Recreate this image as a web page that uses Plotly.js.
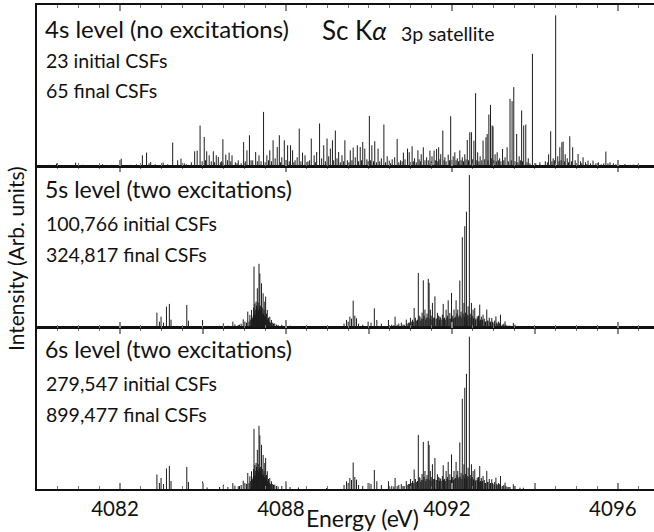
<!DOCTYPE html>
<html>
<head>
<meta charset="utf-8">
<script src="https://cdn.plot.ly/plotly-3.0.1.min.js"></script>
<style>
  html, body { margin: 0; padding: 0; background: #fff; }
  #chart { width: 654px; height: 532px; }
</style>
</head>
<body>
<div id="chart"></div>
<script>
// Sc K-alpha 3p satellite: calculated line positions (eV) and intensities (arb. units)

// 4s level, no excitations
const energy4s = [
  4082.30, 4082.47, 4082.65, 4082.93, 4083.10, 4083.35, 4083.58, 4083.80, 4084.03, 4084.25,
  4084.40, 4084.54, 4084.64, 4084.70, 4084.74, 4084.85, 4085.04, 4085.15, 4085.27, 4085.39,
  4085.47, 4085.60, 4085.80, 4085.86, 4085.93, 4086.03, 4086.09, 4086.15, 4086.20, 4086.25,
  4086.32, 4086.37, 4086.42, 4086.48, 4086.55, 4086.63, 4086.70, 4086.78, 4086.85, 4086.92,
  4086.98, 4087.06, 4087.12, 4087.20, 4087.27, 4087.35, 4087.40, 4087.46, 4087.54, 4087.61,
  4087.69, 4087.74, 4087.79, 4087.84, 4087.90, 4087.96, 4088.04, 4088.11, 4088.16, 4088.22,
  4088.27, 4088.32, 4088.40, 4088.46, 4088.53, 4088.61, 4088.68, 4088.74, 4088.81, 4088.86,
  4088.91, 4088.99, 4089.03, 4089.07, 4089.12, 4089.19, 4089.23, 4089.27, 4089.35, 4089.42,
  4089.48, 4089.55, 4089.62, 4089.67, 4089.72, 4089.79, 4089.85, 4089.90, 4089.95, 4090.01,
  4090.07, 4090.14, 4090.22, 4090.30, 4090.36, 4090.44, 4090.49, 4090.56, 4090.62, 4090.68,
  4090.76, 4090.83, 4090.87, 4090.93, 4090.97, 4091.04, 4091.10, 4091.18, 4091.21, 4091.26,
  4091.31, 4091.39, 4091.43, 4091.47, 4091.52, 4091.57, 4091.63, 4091.68, 4091.73, 4091.78,
  4091.83, 4091.91, 4091.97, 4092.03, 4092.07, 4092.13, 4092.19, 4092.25, 4092.31, 4092.37,
  4092.43, 4092.47, 4092.53, 4092.57, 4092.62, 4092.68, 4092.75, 4092.82, 4092.85, 4092.89,
  4092.93, 4092.97, 4092.99, 4093.04, 4093.09, 4093.15, 4093.22, 4093.28, 4093.33, 4093.40,
  4093.45, 4093.49, 4093.56, 4093.62, 4093.68, 4093.73, 4093.78, 4093.84, 4093.94, 4094.02,
  4094.12, 4094.25, 4094.33, 4094.38, 4094.44, 4094.50, 4094.55, 4094.60, 4094.65, 4094.68,
  4094.73, 4094.78, 4094.84, 4094.91, 4094.97, 4095.04, 4095.10, 4095.16, 4095.22, 4095.28,
  4095.34, 4095.40, 4095.47, 4095.53, 4095.60, 4095.66, 4095.71, 4095.76, 4095.81, 4095.89,
  4095.95, 4096.05, 4096.17, 4096.30, 4096.37, 4096.49,
  // weak lines
  4085.55, 4085.72, 4085.98, 4086.06, 4086.28, 4086.45, 4086.59, 4086.67, 4086.82, 4087.02,
  4087.16, 4087.31, 4087.50, 4087.58, 4087.65, 4087.87, 4088.00, 4088.08, 4088.19, 4088.36,
  4088.50, 4088.57, 4088.71, 4088.95, 4089.15, 4089.31, 4089.39, 4089.52, 4089.59, 4089.75,
  4089.82, 4089.98, 4090.04, 4090.11, 4090.18, 4090.26, 4090.40, 4090.52, 4090.72, 4090.80,
  4091.00, 4091.07, 4091.14, 4091.24, 4091.35, 4091.50, 4091.60, 4091.66, 4091.71, 4091.81,
  4091.86, 4091.94, 4092.00, 4092.10, 4092.16, 4092.22, 4092.28, 4092.34, 4092.40, 4092.50,
  4092.60, 4092.65, 4092.72, 4092.79, 4092.87, 4092.95, 4093.01, 4093.07, 4093.12, 4093.18,
  4093.25, 4093.36, 4093.43, 4093.52, 4093.59, 4093.65, 4093.70, 4093.81, 4093.88, 4094.30,
  4094.41, 4094.47, 4094.58, 4094.63, 4094.71, 4094.81, 4094.88, 4095.00, 4095.13, 4095.25
];
const intensity4s = [
  1.5, 2.7, 1.0, 3.7, 1.5, 1.2, 2.0, 1.5, 7.7, 1.5,
  2.0, 11.0, 13.7, 3.0, 4.3, 2.0, 3.7, 2.0, 23.7, 6.0,
  7.7, 2.0, 15.0, 15.7, 40.7, 29.3, 15.0, 11.0, 5.0, 15.0,
  11.0, 9.3, 4.0, 27.0, 11.7, 13.7, 11.0, 4.0, 6.0, 3.0,
  24.3, 16.0, 31.0, 6.0, 14.3, 11.0, 5.0, 54.3, 11.0, 16.0,
  26.0, 8.0, 19.3, 31.0, 9.0, 26.0, 21.0, 21.0, 16.0, 6.0,
  9.0, 37.7, 13.7, 11.0, 5.0, 27.7, 11.0, 14.3, 42.7, 8.0,
  21.0, 27.7, 10.0, 17.7, 26.0, 35.7, 8.0, 14.3, 11.0, 26.0,
  6.0, 16.0, 18.7, 9.0, 21.0, 19.3, 24.3, 17.7, 7.0, 50.3,
  21.0, 25.0, 17.7, 8.0, 41.7, 10.0, 5.7, 7.0, 9.0, 27.3,
  6.0, 13.7, 7.0, 17.7, 14.0, 20.0, 8.0, 16.0, 7.0, 12.0,
  19.0, 9.0, 6.0, 15.7, 10.0, 15.7, 17.3, 19.0, 12.0, 35.7,
  9.0, 11.7, 50.0, 10.0, 14.0, 8.0, 16.0, 9.0, 12.0, 26.3,
  34.0, 34.0, 25.7, 73.0, 14.0, 10.0, 25.7, 29.0, 32.3, 51.7,
  61.3, 40.7, 39.7, 12.0, 14.0, 8.0, 17.3, 9.0, 19.0, 67.3,
  65.0, 79.0, 32.3, 10.0, 55.7, 40.7, 41.7, 8.0, 112.3, 3.0,
  4.0, 5.0, 12.0, 35.0, 8.0, 150.7, 10.0, 19.0, 24.0, 24.7,
  12.0, 8.0, 30.0, 19.0, 6.0, 12.3, 5.0, 9.0, 4.0, 5.7,
  3.0, 5.7, 3.0, 4.0, 2.0, 3.0, 14.7, 3.0, 4.0, 3.0,
  2.0, 1.5, 2.3, 1.5, 1.7, 2.3,
  // weak lines
  3, 4, 5, 6, 4, 5, 6, 5, 3, 5,
  6, 5, 4, 6, 5, 4, 6, 5, 4, 5,
  4, 6, 4, 5, 6, 4, 5, 4, 6, 5,
  6, 5, 6, 5, 4, 5, 4, 3, 4, 5,
  4, 5, 4, 5, 6, 5, 6, 5, 7, 6,
  5, 6, 5, 6, 5, 6, 5, 7, 6, 7,
  6, 5, 6, 7, 6, 8, 6, 5, 6, 5,
  6, 5, 6, 5, 4, 6, 5, 4, 3, 4,
  5, 6, 5, 6, 5, 4, 5, 3, 3, 2
];

// 5s level, two excitations
const energy5s = [
  4084.89, 4084.95, 4084.99, 4085.05, 4085.12, 4085.19, 4085.23, 4085.61, 4085.65, 4085.99,
  4086.10, 4086.40, 4086.49, 4086.60, 4086.72, 4086.77, 4086.85, 4086.88, 4086.92, 4086.97,
  4087.01, 4087.05, 4087.08, 4087.11, 4087.13, 4087.15, 4087.17, 4087.20, 4087.22, 4087.23,
  4087.25, 4087.28, 4087.29, 4087.31, 4087.33, 4087.35, 4087.37, 4087.39, 4087.41, 4087.43,
  4087.45, 4087.47, 4087.49, 4087.51, 4087.53, 4087.55, 4087.58, 4087.61, 4087.65, 4087.68,
  4087.73, 4087.77, 4087.81, 4087.90, 4088.00, 4088.10, 4088.30, 4088.98, 4089.40, 4089.46,
  4089.50, 4089.54, 4089.58, 4089.62, 4089.66, 4089.70, 4089.75, 4089.85, 4089.98, 4090.05,
  4090.13, 4090.19, 4090.30, 4090.47, 4090.63, 4090.78, 4090.85, 4090.90, 4090.92, 4090.98,
  4091.00, 4091.02, 4091.05, 4091.09, 4091.12, 4091.15, 4091.19, 4091.21, 4091.23, 4091.26,
  4091.28, 4091.31, 4091.33, 4091.35, 4091.38, 4091.40, 4091.43, 4091.45, 4091.48, 4091.50,
  4091.53, 4091.56, 4091.59, 4091.62, 4091.65, 4091.68, 4091.71, 4091.74, 4091.77, 4091.79,
  4091.82, 4091.86, 4091.89, 4091.91, 4091.93, 4091.95, 4091.99, 4092.02, 4092.05, 4092.07,
  4092.10, 4092.12, 4092.14, 4092.17, 4092.19, 4092.22, 4092.25, 4092.27, 4092.29, 4092.31,
  4092.33, 4092.35, 4092.37, 4092.39, 4092.42, 4092.44, 4092.47, 4092.49, 4092.51, 4092.53,
  4092.55, 4092.58, 4092.61, 4092.64, 4092.67, 4092.69, 4092.71, 4092.73, 4092.75, 4092.78,
  4092.81, 4092.84, 4092.87, 4092.90, 4092.93, 4092.96, 4092.99, 4093.03, 4093.06, 4093.09,
  4093.12, 4093.14, 4093.17, 4093.21, 4093.25, 4093.28, 4093.33, 4093.40, 4093.48, 4093.52,
  4093.64, 4093.72,
  // weak lines
  4090.50, 4090.55, 4090.60, 4090.68, 4090.72, 4090.82, 4090.95, 4091.08, 4091.17, 4091.25,
  4091.30, 4091.37, 4091.42, 4091.47, 4091.52, 4091.58, 4091.64, 4091.70, 4091.73, 4091.80,
  4091.84, 4091.88, 4091.97, 4092.00, 4092.04, 4092.09, 4092.15, 4092.20, 4092.24, 4092.30,
  4092.36, 4092.41, 4092.46, 4092.52, 4092.57, 4092.62, 4092.66, 4092.74, 4092.80, 4092.86,
  4092.92, 4092.98, 4093.02, 4093.08, 4093.16, 4093.23, 4093.30, 4093.37,
  4087.19, 4087.21, 4087.24, 4087.26, 4087.27, 4087.30, 4087.32, 4087.34, 4087.36, 4087.38,
  4087.40, 4087.42, 4087.44, 4087.46, 4087.48, 4087.50, 4087.52, 4087.56, 4087.60, 4087.63,
  4087.70
];
const intensity5s = [
  15.0, 6.0, 11.0, 5.0, 21.0, 23.7, 8.0, 22.7, 7.0, 7.7,
  1.5, 2.0, 4.3, 2.0, 6.0, 3.3, 2.7, 3.0, 4.0, 8.3,
  6.0, 5.0, 16.0, 6.0, 12.7, 8.0, 17.7, 10.0, 20.0, 61.0,
  24.0, 26.0, 22.0, 39.3, 25.0, 63.7, 54.0, 22.0, 44.3, 20.0,
  34.3, 18.0, 26.0, 31.0, 14.0, 17.7, 10.0, 11.0, 7.7, 5.0,
  4.3, 3.0, 2.7, 3.0, 7.7, 2.0, 1.5, 1.0, 4.0, 7.7,
  6.0, 11.0, 9.0, 27.0, 12.0, 9.3, 4.0, 3.0, 6.0, 5.0,
  19.3, 7.7, 4.0, 7.7, 11.0, 5.0, 3.0, 8.0, 4.0, 5.0,
  10.0, 6.0, 8.0, 19.7, 10.0, 7.0, 54.7, 12.0, 11.0, 9.0,
  15.0, 47.3, 12.0, 18.0, 10.0, 14.0, 48.7, 44.7, 18.0, 12.0,
  24.7, 10.0, 31.3, 9.0, 14.7, 12.0, 11.0, 8.0, 13.0, 23.7,
  10.0, 18.0, 12.0, 27.3, 9.0, 14.7, 34.7, 12.0, 18.0, 10.0,
  27.3, 14.0, 18.0, 12.0, 47.0, 16.0, 90.3, 14.0, 24.7, 101.3,
  15.0, 115.7, 13.0, 21.3, 152.3, 14.0, 24.7, 12.0, 18.0, 10.0,
  19.7, 9.0, 11.3, 12.0, 23.0, 8.0, 11.0, 7.0, 13.0, 9.0,
  6.0, 18.0, 7.0, 10.0, 6.0, 9.7, 5.0, 7.0, 11.3, 4.0,
  6.0, 5.0, 13.0, 3.0, 4.0, 6.3, 2.0, 2.0, 4.7, 3.0,
  1.3, 1.3,
  // weak lines
  2, 3, 2.5, 3, 4, 3, 5, 6, 8, 7,
  9, 8, 10, 9, 8, 10, 9, 8, 10, 9,
  8, 10, 9, 10, 9, 11, 10, 12, 10, 11,
  10, 12, 10, 9, 8, 9, 7, 8, 6, 7,
  5, 6, 4, 5, 4, 3, 3, 2,
  9, 12, 14, 18, 13, 16, 19, 17, 21, 18,
  16, 15, 13, 14, 12, 11, 10, 8, 6, 5,
  4
];

// 6s level, two excitations
const energy6s = [
  4084.89, 4084.95, 4084.99, 4085.05, 4085.12, 4085.19, 4085.23, 4085.61, 4085.65, 4085.99,
  4086.10, 4086.40, 4086.49, 4086.60, 4086.72, 4086.77, 4086.85, 4086.88, 4086.92, 4086.97,
  4087.01, 4087.05, 4087.08, 4087.11, 4087.13, 4087.15, 4087.17, 4087.20, 4087.22, 4087.23,
  4087.25, 4087.28, 4087.29, 4087.31, 4087.33, 4087.35, 4087.37, 4087.39, 4087.41, 4087.43,
  4087.45, 4087.47, 4087.49, 4087.51, 4087.53, 4087.55, 4087.58, 4087.61, 4087.65, 4087.68,
  4087.73, 4087.77, 4087.81, 4087.90, 4088.00, 4088.10, 4088.30, 4088.98, 4089.40, 4089.46,
  4089.50, 4089.54, 4089.58, 4089.62, 4089.66, 4089.70, 4089.75, 4089.85, 4089.98, 4090.05,
  4090.13, 4090.19, 4090.30, 4090.47, 4090.63, 4090.78, 4090.85, 4090.90, 4090.92, 4090.98,
  4091.00, 4091.02, 4091.05, 4091.09, 4091.12, 4091.15, 4091.19, 4091.21, 4091.23, 4091.26,
  4091.28, 4091.31, 4091.33, 4091.35, 4091.38, 4091.40, 4091.43, 4091.45, 4091.48, 4091.50,
  4091.53, 4091.56, 4091.59, 4091.62, 4091.65, 4091.68, 4091.71, 4091.74, 4091.77, 4091.79,
  4091.82, 4091.86, 4091.89, 4091.91, 4091.93, 4091.95, 4091.99, 4092.02, 4092.05, 4092.07,
  4092.10, 4092.12, 4092.14, 4092.17, 4092.19, 4092.22, 4092.25, 4092.27, 4092.29, 4092.31,
  4092.33, 4092.35, 4092.37, 4092.39, 4092.42, 4092.44, 4092.47, 4092.49, 4092.51, 4092.53,
  4092.55, 4092.58, 4092.61, 4092.64, 4092.67, 4092.69, 4092.71, 4092.73, 4092.75, 4092.78,
  4092.81, 4092.84, 4092.87, 4092.90, 4092.93, 4092.96, 4092.99, 4093.03, 4093.06, 4093.09,
  4093.12, 4093.14, 4093.17, 4093.21, 4093.25, 4093.28, 4093.33, 4093.40, 4093.48, 4093.52,
  4093.64, 4093.72,
  // weak lines
  4090.50, 4090.55, 4090.60, 4090.68, 4090.72, 4090.82, 4090.95, 4091.08, 4091.17, 4091.25,
  4091.30, 4091.37, 4091.42, 4091.47, 4091.52, 4091.58, 4091.64, 4091.70, 4091.73, 4091.80,
  4091.84, 4091.88, 4091.97, 4092.00, 4092.04, 4092.09, 4092.15, 4092.20, 4092.24, 4092.30,
  4092.36, 4092.41, 4092.46, 4092.52, 4092.57, 4092.62, 4092.66, 4092.74, 4092.80, 4092.86,
  4092.92, 4092.98, 4093.02, 4093.08, 4093.16, 4093.23, 4093.30, 4093.37,
  4087.19, 4087.21, 4087.24, 4087.26, 4087.27, 4087.30, 4087.32, 4087.34, 4087.36, 4087.38,
  4087.40, 4087.42, 4087.44, 4087.46, 4087.48, 4087.50, 4087.52, 4087.56, 4087.60, 4087.63,
  4087.70
];
const intensity6s = [
  14.5, 6.0, 11.0, 5.0, 20.5, 23.0, 8.0, 22.0, 7.0, 7.5,
  1.5, 2.0, 4.3, 2.0, 6.0, 3.3, 2.7, 3.0, 4.0, 8.3,
  6.0, 5.0, 16.0, 6.0, 12.7, 8.0, 17.7, 10.0, 20.0, 60.0,
  24.0, 26.0, 22.0, 39.0, 25.0, 63.0, 53.5, 22.0, 44.0, 20.0,
  34.0, 18.0, 26.0, 31.0, 14.0, 17.7, 10.0, 11.0, 7.7, 5.0,
  4.3, 3.0, 2.7, 3.0, 7.7, 2.0, 1.5, 1.0, 4.0, 7.7,
  6.0, 11.0, 9.0, 26.5, 12.0, 9.3, 4.0, 3.0, 6.0, 5.0,
  19.0, 7.7, 4.0, 7.7, 11.0, 5.0, 3.0, 8.0, 4.0, 5.0,
  10.0, 6.0, 8.0, 19.5, 10.0, 7.0, 54.0, 12.0, 11.0, 9.0,
  15.0, 47.0, 12.0, 18.0, 10.0, 14.0, 48.0, 44.0, 18.0, 12.0,
  24.7, 10.0, 31.0, 9.0, 14.7, 12.0, 11.0, 8.0, 13.0, 23.7,
  10.0, 18.0, 12.0, 27.0, 9.0, 14.7, 34.5, 12.0, 18.0, 10.0,
  27.0, 14.0, 18.0, 12.0, 46.5, 16.0, 90.0, 14.0, 24.7, 101.0,
  15.0, 115.0, 13.0, 21.3, 152.0, 14.0, 24.7, 12.0, 18.0, 10.0,
  19.7, 9.0, 11.3, 12.0, 23.0, 8.0, 11.0, 7.0, 13.0, 9.0,
  6.0, 18.0, 7.0, 10.0, 6.0, 9.7, 5.0, 7.0, 11.3, 4.0,
  6.0, 5.0, 13.0, 3.0, 4.0, 6.3, 2.0, 2.0, 4.7, 3.0,
  1.3, 1.3,
  // weak lines
  2, 3, 2.5, 3, 4, 3, 5, 6, 8, 7,
  9, 8, 10, 9, 8, 10, 9, 8, 10, 9,
  8, 10, 9, 10, 9, 11, 10, 12, 10, 11,
  10, 12, 10, 9, 8, 9, 7, 8, 6, 7,
  5, 6, 4, 5, 4, 3, 3, 2,
  9, 12, 14, 18, 13, 16, 19, 17, 21, 18,
  16, 15, 13, 14, 12, 11, 10, 8, 6, 5,
  4
];

// Axis ticks (labels as printed on the figure)
const tickEnergies = [4084, 4086, 4088, 4090, 4092, 4094, 4096];
const tickLabels   = ['4082', '', '4088', '', '4092', '', '4096'];
const energyRange  = [4082, 4096.87];
const intensityRange = [0, 161];

// Turn a line list into vertical sticks rising from zero
function sticks(energy, intensity) {
  const x = [], y = [];
  energy.forEach((e, i) => {
    x.push(e, e, null);
    y.push(0, intensity[i], null);
  });
  return { x, y };
}

const stickStyle = { color: '#1c1c1c', width: 1 };
const panels = [
  { e: energy4s, i: intensity4s, xa: 'x3', ya: 'y3' },
  { e: energy5s, i: intensity5s, xa: 'x2', ya: 'y2' },
  { e: energy6s, i: intensity6s, xa: 'x',  ya: 'y'  }
];
const traces = panels.map(p => {
  const s = sticks(p.e, p.i);
  return {
    type: 'scatter', mode: 'lines', x: s.x, y: s.y,
    xaxis: p.xa, yaxis: p.ya, connectgaps: false,
    line: stickStyle, hoverinfo: 'skip', showlegend: false
  };
});

const FONT = 'Lato, "Open Sans", sans-serif';

function energyAxis(anchor, labels) {
  return {
    anchor: anchor, range: energyRange, showgrid: false, zeroline: false,
    showline: true, linecolor: '#111', linewidth: 1.8, mirror: 'ticks',
    ticks: 'inside', ticklen: 6, tickwidth: 1.3, tickcolor: '#8a8a8a',
    tickmode: 'array', tickvals: tickEnergies, ticktext: tickLabels,
    showticklabels: labels, ticklabelstandoff: 1, ticklabelshift: -5,
    tickfont: { family: FONT, size: 20.5, color: '#111' },
    minor: { tickmode: 'linear', tick0: 4082, dtick: 0.5, ticks: 'inside',
             ticklen: 3, tickwidth: 1, tickcolor: '#777', showgrid: false },
    fixedrange: true
  };
}
function intensityAxis(anchor, domain) {
  return {
    anchor: anchor, domain: domain, range: intensityRange,
    showgrid: false, zeroline: false, showline: true, linecolor: '#111',
    linewidth: 2, ticks: '', showticklabels: false, fixedrange: true
  };
}

// Pixel-based placement helpers for the text labels
const W = 654, H = 532, ML = 37, MR = 0, MT = 5, MB = 43;
const px = v => (v - ML) / (W - ML - MR);
const py = v => (H - MB - v) / (H - MT - MB);

function label(text, x, y, size, opts) {
  return Object.assign({
    text: text, xref: 'paper', yref: 'paper', x: px(x), y: py(y),
    xanchor: 'left', yanchor: 'middle', showarrow: false,
    font: { family: FONT, size: size, color: '#111' }
  }, opts || {});
}

const annotations = [
  label('4s level (no excitations)', 43, 28.5, 24),
  label('23 initial CSFs', 44, 60, 19.5),
  label('65 final CSFs', 44, 90, 19.5),
  label('Sc K<i>α</i>', 320, 30, 26),
  label('3p satellite', 399, 34, 19.5),
  label('5s level (two excitations)', 43, 189, 23),
  label('100,766 initial CSFs', 44, 223, 19.5),
  label('324,817 final CSFs', 44, 255, 19.5),
  label('6s level (two excitations)', 43, 349, 23),
  label('279,547 initial CSFs', 44, 383, 19.5),
  label('899,477 final CSFs', 44, 414, 19.5),
  label('Energy (eV)', 362, 518, 23, { xanchor: 'center' }),
  label('Intensity (Arb. units)', 15, 259, 21, { xanchor: 'center', textangle: -90 })
];

const layout = {
  width: W, height: H,
  margin: { l: ML, r: MR, t: MT, b: MB },
  paper_bgcolor: '#fff', plot_bgcolor: '#fff',
  showlegend: false,
  xaxis: energyAxis('y', true),
  xaxis2: energyAxis('y2', false),
  xaxis3: energyAxis('y3', false),
  yaxis: intensityAxis('x', [0, 0.3333]),
  yaxis2: intensityAxis('x2', [0.3333, 0.6667]),
  yaxis3: intensityAxis('x3', [0.6667, 1]),
  annotations: annotations
};

Plotly.newPlot('chart', traces, layout, { staticPlot: true, displayModeBar: false });
</script>
</body>
</html>
